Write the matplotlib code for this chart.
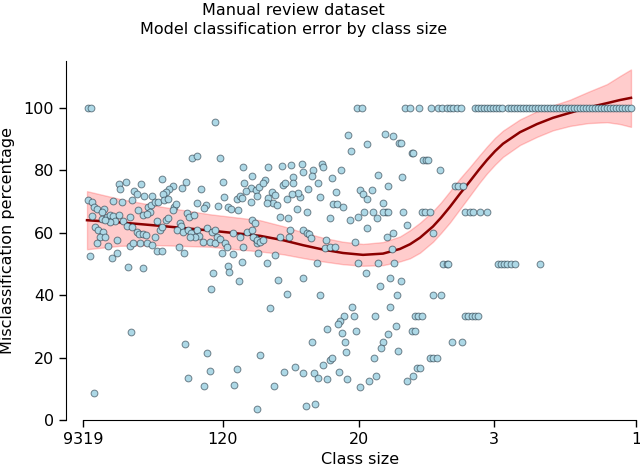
"""Manual review dataset - model classification error by class size."""

import matplotlib
matplotlib.use("Agg")
import matplotlib.pyplot as plt

# rank position of each class (sorted by class size, largest first)
class_rank = [
    5, 8, 132, 109, 114, 137, 160, 169, 36, 43, 37, 58, 79, 103, 99,
    90, 86, 83, 80, 118, 140, 161, 168, 173, 163, 141,
    51, 54, 61, 69, 49, 39, 30, 5, 9, 11, 14, 21, 19, 9, 19, 24, 27, 30,
    36, 40, 32, 27, 22, 47, 44, 55, 60, 65, 68, 72, 67, 64, 75, 81, 85, 91, 93, 90,
    74, 83, 85, 104, 106, 111, 114, 123, 121, 135, 145, 148, 154, 157, 159, 155,
    168, 174, 176, 12, 15, 20, 17, 22, 14, 25, 7, 29, 34, 45, 47, 34,
    49, 54, 56, 60, 63, 57, 50, 64, 69, 60, 74, 79, 72, 77, 79,
    97, 98, 94, 100, 105, 108, 114, 116, 112, 96, 101, 107, 120,
    124, 129, 132, 134, 127, 132, 137, 142, 144, 139, 150, 145, 146, 159, 130, 156, 128,
    150, 157, 164, 169, 172, 174, 160,
    11, 48, 102, 124, 127, 105, 121, 154, 151, 174, 177,
    274, 279, 322, 327, 336, 348, 355, 359, 364,
    265, 302, 310, 316, 318, 284, 268, 329, 330, 340, 343, 345, 357,
    185, 199, 208, 219, 220, 230, 229, 239, 240, 249, 258, 182, 180,
    189, 192, 185, 190, 194, 184, 200, 202, 210, 210,
    217, 215, 209, 204, 225, 235, 237, 253, 250, 254, 260, 247, 224, 214, 205, 197,
    277, 280, 284, 289, 295, 305, 300, 303, 300, 305, 290, 281, 275, 267, 294,
    319, 320, 324, 339, 342, 347, 350, 284,
    197, 207, 206, 169, 172, 170, 174, 177, 180, 175, 192, 184,
    220, 224, 226, 228, 243, 242, 247, 252, 272,
    234, 275, 295, 311, 283, 304, 310, 309, 307, 318, 297, 220, 195, 360, 364, 365,
    204, 237, 187, 314, 350, 358, 307, 269,
    261, 271, 292, 332, 335, 339, 257, 255,
    329, 332, 244, 273, 259, 313, 305, 300, 298, 262, 229,
    263, 315, 291, 347, 350, 354, 247, 249, 240, 212, 201,
    220, 231, 235, 244, 256, 264, 334, 337, 293, 286, 277, 324, 330, 191, 223, 232,
    372, 375, 380, 382, 387, 390, 397, 404,
    382, 385, 389, 392, 395, 369, 379,
    415, 418, 421, 424, 428, 432, 457,
    367, 370, 374, 378, 392, 395, 398, 401, 404, 407, 410, 413, 416, 419,
    425, 428, 431, 434, 437, 440, 443, 446, 449, 452, 455, 458, 461, 464,
    467, 470, 473, 476, 479, 482, 485, 488, 491, 494, 497, 500, 503, 506,
    509, 512, 515, 518, 521, 524, 527, 530, 533, 536, 539, 542, 545, 548,
]

# misclassification percentage per class
miscls_pct = [
    100, 100, 95.5, 83.8, 84.6, 84.0, 81.1, 78.2, 75.5, 76.1, 74.0, 75.5, 77.1, 76.2, 74.2,
    75.0, 73.9, 73.1, 72.4, 73.9, 76.1, 75.8, 74.4, 73.6, 73.5, 71.5,
    73.3, 72.3, 71.8, 71.9, 70.4, 69.7, 70.2, 70.4, 69.7, 68.3, 67.5, 67.5, 66.6, 65.3, 64.5, 65.1, 65.7, 65.3,
    65.6, 63.8, 63.8, 63.5, 64.0, 65.1, 62.3, 67.2, 65.6, 68.1, 68.8, 69.9, 66.7, 66.0, 69.9, 70.4, 70.9, 68.3, 69.1, 67.2,
    63.7, 64.0, 64.6, 66.2, 65.1, 65.7, 69.4, 68.9, 67.9, 68.5, 68.1, 67.6, 70.7, 71.7, 71.0, 67.2,
    69.8, 71.9, 74.7, 61.9, 60.8, 60.3, 58.7, 58.7, 56.6, 55.7, 52.5, 51.8, 53.6, 48.9, 55.7, 57.6,
    61.7, 60.3, 59.6, 59.6, 59.3, 56.6, 56.6, 56.6, 56.0, 48.8, 54.2, 54.0, 58.7, 60.8, 61.9,
    63.0, 62.1, 60.8, 60.3, 60.8, 59.8, 60.8, 59.0, 58.7, 55.5, 53.6, 58.7, 57.1,
    61.4, 60.3, 60.8, 58.7, 57.1, 56.6, 57.9, 56.6, 55.5, 53.4, 53.2, 49.3, 47.5, 50.5, 47.0, 44.6, 42.0,
    59.8, 58.7, 60.3, 60.8, 58.2, 56.6, 55.5,
    8.6, 28.1, 24.5, 21.6, 15.7, 13.3, 10.9, 16.2, 11.1, 3.6, 20.8,
    100, 100, 100, 100, 100, 100, 100, 100, 100,
    91.3, 91.6, 90.9, 88.8, 88.8, 88.3, 86.2, 85.6, 85.6, 83.3, 83.3, 83.3, 80.1,
    80.9, 81.3, 81.7, 82.0, 79.5, 80.1, 78.1, 82.0, 80.9, 77.4, 80.1, 76.8, 76.0,
    73.1, 72.0, 71.0, 69.4, 68.8, 69.4, 75.2, 76.0, 77.7, 75.8,
    71.5, 72.6, 72.4, 70.7, 73.9, 75.8, 71.5, 73.1, 69.2, 69.2, 68.1, 64.6, 66.7, 67.5, 64.6, 65.1,
    73.6, 72.4, 70.7, 73.6, 78.4, 74.9, 69.4, 66.7, 66.7, 66.7, 66.7, 66.7, 65.1, 64.0, 64.6,
    77.9, 66.7, 62.4, 66.7, 66.7, 66.7, 60.0, 61.4,
    58.7, 60.8, 58.7, 64.0, 63.0, 58.7, 57.6, 57.1, 57.6, 53.4, 53.0, 50.2,
    60.8, 60.0, 59.6, 58.2, 57.6, 55.0, 55.5, 55.5, 57.1,
    50.2, 50.2, 50.2, 50.2, 47.2, 58.7, 60.0, 54.7, 45.6, 44.6, 42.9, 45.6, 45.0, 50, 50, 50,
    40.3, 40.0, 35.8, 40.0, 40.0, 40.0, 36.3, 36.3,
    33.3, 33.3, 33.3, 33.3, 33.3, 33.3, 31.8, 30.7,
    28.6, 28.6, 29.0, 28.6, 28.0, 30.1, 27.4, 25.1, 23.2, 25.1, 25.1,
    21.8, 22.2, 20.0, 20.0, 20.0, 20.0, 19.2, 20.0, 17.6, 17.1, 15.5,
    14.9, 14.9, 13.5, 13.0, 15.5, 13.1, 16.5, 16.5, 14.2, 12.6, 10.7, 12.5, 14.2, 10.9, 4.5, 5.1,
    74.9, 74.9, 74.9, 66.7, 66.7, 66.7, 66.7, 66.7,
    33.3, 33.3, 33.3, 33.3, 33.3, 25.0, 25.0,
    50, 50, 50, 50, 50, 50, 50,
    100, 100, 100, 100, 100, 100, 100, 100, 100, 100, 100, 100, 100, 100,
    100, 100, 100, 100, 100, 100, 100, 100, 100, 100, 100, 100, 100, 100,
    100, 100, 100, 100, 100, 100, 100, 100, 100, 100, 100, 100, 100, 100,
    100, 100, 100, 100, 100, 100, 100, 100, 100, 100, 100, 100, 100, 100,
]

# polynomial trend and its confidence band
fit_rank = [4, 37, 77, 127, 177, 200, 220, 240, 260, 280, 300, 317, 327, 337,
            350, 358, 367, 377, 387, 396, 404, 412, 420, 437, 454, 470, 487,
            505, 524, 537, 548]
fit_pct = [64.0, 63.3, 62.2, 60.7, 59.0, 57.6, 56.0, 54.6, 53.5, 52.9, 53.3,
           54.8, 56.3, 58.4, 62.0, 64.8, 68.3, 72.5, 76.5, 80.2, 83.3, 86.1,
           88.5, 92.2, 94.8, 96.8, 98.4, 100.1, 101.5, 102.5, 103.2]
fit_lo = [54.7, 55.8, 56.0, 55.5, 54.0, 53.1, 51.9, 50.8, 49.9, 49.4, 49.6,
          50.8, 51.8, 53.6, 57.1, 59.9, 63.3, 67.6, 71.9, 75.8, 79.0, 81.8,
          84.3, 88.1, 90.7, 92.8, 94.2, 95.1, 95.4, 94.8, 93.9]
fit_hi = [73.3, 70.8, 68.4, 65.9, 64.0, 62.1, 60.1, 58.4, 57.1, 56.4, 57.0,
          58.8, 60.8, 63.2, 66.9, 69.7, 73.3, 77.4, 81.1, 84.6, 87.6, 90.4,
          92.7, 96.3, 98.9, 100.8, 102.6, 105.1, 107.6, 110.2, 112.3]

tick_rank = [0, 140, 276, 411, 553]
tick_labels = ["9319", "120", "20", "3", "1"]

fig = plt.figure(figsize=(6.4, 4.67), dpi=100)
ax = fig.add_axes([66 / 640, 47 / 467, 588 / 640, 359 / 467])

ax.fill_between(fit_rank, fit_lo, fit_hi, color="red", alpha=0.2, lw=1, zorder=1)
ax.plot(fit_rank, fit_pct, color="darkred", lw=1.8, zorder=2)
ax.scatter(class_rank, miscls_pct, s=24, facecolor="lightblue",
           edgecolor=(0.15, 0.22, 0.27, 0.6), linewidth=0.7, zorder=3)

ax.set_xlim(-17, 571)
ax.set_ylim(0, 115)
ax.set_xticks(tick_rank)
ax.set_xticklabels(tick_labels)
ax.set_yticks([0, 20, 40, 60, 80, 100])
ax.tick_params(labelsize=11.5, length=5, width=1)

for side in ("top", "right"):
    ax.spines[side].set_visible(False)
ax.spines["bottom"].set_bounds(tick_rank[0], tick_rank[-1])

ax.set_xlabel("Class size", fontsize=11.5, labelpad=4)
ax.set_ylabel("Misclassification percentage", fontsize=11.5, labelpad=6)
fig.text(293.5 / 640, 1 - 20 / 467,
         "Manual review dataset\nModel classification error by class size",
         ha="center", va="center", fontsize=11.5, linespacing=1.35)

fig.savefig("out.png", dpi=100)
plt.close(fig)
